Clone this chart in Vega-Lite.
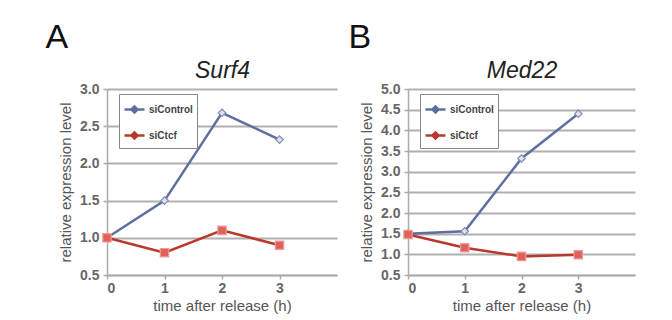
{
  "$schema": "https://vega.github.io/schema/vega-lite/v6.json",
  "background": "white",
  "padding": {"left": 45, "top": 21, "right": 10, "bottom": 2},
  "spacing": 11,
  "resolve": {"scale": {"color": "independent"}, "legend": {"color": "independent"}},
  "datasets": {
    "surf4": [
      {"time": 0, "series": "siControl", "value": 1.0},
      {"time": 1, "series": "siControl", "value": 1.5},
      {"time": 2, "series": "siControl", "value": 2.68},
      {"time": 3, "series": "siControl", "value": 2.32},
      {"time": 0, "series": "siCtcf", "value": 1.0},
      {"time": 1, "series": "siCtcf", "value": 0.8},
      {"time": 2, "series": "siCtcf", "value": 1.1},
      {"time": 3, "series": "siCtcf", "value": 0.9}
    ],
    "med22": [
      {"time": 0, "series": "siControl", "value": 1.5},
      {"time": 1, "series": "siControl", "value": 1.56},
      {"time": 2, "series": "siControl", "value": 3.32},
      {"time": 3, "series": "siControl", "value": 4.4},
      {"time": 0, "series": "siCtcf", "value": 1.48},
      {"time": 1, "series": "siCtcf", "value": 1.16},
      {"time": 2, "series": "siCtcf", "value": 0.95},
      {"time": 3, "series": "siCtcf", "value": 0.99}
    ]
  },
  "config": {
    "font": "Liberation Sans",
    "view": {"stroke": null},
    "axis": {
      "labelFont": "Liberation Sans",
      "labelFontWeight": "bold",
      "labelFontSize": 14,
      "labelColor": "#666666",
      "labelOverlap": false,
      "titleFont": "Liberation Sans",
      "titleFontWeight": "normal",
      "titleFontSize": 15,
      "titleColor": "#555555",
      "domainColor": "#aaaaaa",
      "domainWidth": 1.5,
      "tickColor": "#aaaaaa",
      "tickWidth": 1.5,
      "tickSize": 4,
      "gridColor": "#b0b0b0",
      "gridWidth": 2
    },
    "title": {"font": "Liberation Sans", "fontSize": 34, "fontWeight": "normal", "color": "#111111", "anchor": "start", "frame": "bounds"},
    "legend": {
      "orient": "none",
      "legendX": 12,
      "legendY": 5,
      "strokeColor": "#888888",
      "fillColor": "white",
      "padding": 4,
      "symbolSize": 400,
      "symbolStrokeWidth": 2.5,
      "rowPadding": 6,
      "labelFont": "Liberation Sans",
      "labelFontSize": 10,
      "labelFontWeight": "bold",
      "labelColor": "#444444",
      "labelOffset": 3,
      "title": null
    }
  },
  "hconcat": [
    {
      "data": {"name": "surf4"},
      "width": 230,
      "height": 186,
      "title": {"text": "A", "dx": -13},
      "resolve": {"axis": {"x": "independent"}},
      "encoding": {
        "y": {"field": "value", "type": "quantitative", "scale": {"domain": [0.5, 3.0]},
              "axis": {"values": [0.5, 1.0, 1.5, 2.0, 2.5, 3.0], "tickCount": 20, "format": ".1f", "title": "relative expression level", "labelPadding": 4, "titlePadding": 6}}
      },
      "layer": [
        {
          "mark": {"type": "line", "strokeWidth": 2.5},
          "encoding": {
            "x": {"field": "time", "type": "quantitative", "scale": {"domain": [0, 4]},
                  "axis": {"values": [0, 1, 2, 3], "grid": false, "title": "time after release (h)", "labelPadding": 2, "titlePadding": 3}},
            "color": {"field": "series", "type": "nominal",
                      "scale": {"domain": ["siControl", "siCtcf"], "range": ["#5f6f9f", "#b8382c"]},
                      "legend": {"symbolType": "M-1,0H1M-0.3,0L0,-0.3L0.3,0L0,0.3Z", "symbolStrokeWidth": 2.5, "symbolSize": 400}}
          }
        },
        {
          "transform": [{"filter": "datum.series === 'siControl'"}],
          "mark": {"type": "point", "shape": "diamond", "filled": true, "size": 55, "fill": "#dfe2ee", "stroke": "#7d8bb5", "strokeWidth": 1.2, "opacity": 1},
          "encoding": {
            "x": {"field": "time", "type": "quantitative",
                  "axis": {"orient": "top", "title": "Surf4", "labels": false, "ticks": false, "domain": false, "grid": false,
                           "titleFontStyle": "italic", "titleFontSize": 23, "titleColor": "#222222", "titlePadding": 7}}
          }
        },
        {
          "transform": [{"filter": "datum.series === 'siCtcf'"}],
          "mark": {"type": "point", "shape": "square", "filled": true, "size": 70, "fill": "#e2605a", "stroke": "#eb9c98", "strokeWidth": 1.2, "opacity": 1},
          "encoding": {
            "x": {"field": "time", "type": "quantitative", "axis": null}
          }
        }
      ]
    },
    {
      "data": {"name": "med22"},
      "width": 227,
      "height": 186,
      "title": {"text": "B", "dx": -11},
      "resolve": {"axis": {"x": "independent"}},
      "encoding": {
        "y": {"field": "value", "type": "quantitative", "scale": {"domain": [0.5, 5.0]},
              "axis": {"values": [0.5, 1.0, 1.5, 2.0, 2.5, 3.0, 3.5, 4.0, 4.5, 5.0], "tickCount": 20, "format": ".1f", "title": "relative expression level", "labelPadding": 4, "titlePadding": 6}}
      },
      "layer": [
        {
          "mark": {"type": "line", "strokeWidth": 2.5},
          "encoding": {
            "x": {"field": "time", "type": "quantitative", "scale": {"domain": [0, 4]},
                  "axis": {"values": [0, 1, 2, 3], "grid": false, "title": "time after release (h)", "labelPadding": 2, "titlePadding": 3}},
            "color": {"field": "series", "type": "nominal",
                      "scale": {"domain": ["siControl", "siCtcf"], "range": ["#5f6f9f", "#b8382c"]},
                      "legend": {"symbolType": "M-1,0H1M-0.3,0L0,-0.3L0.3,0L0,0.3Z", "symbolStrokeWidth": 2.5, "symbolSize": 400}}
          }
        },
        {
          "transform": [{"filter": "datum.series === 'siControl'"}],
          "mark": {"type": "point", "shape": "diamond", "filled": true, "size": 55, "fill": "#dfe2ee", "stroke": "#7d8bb5", "strokeWidth": 1.2, "opacity": 1},
          "encoding": {
            "x": {"field": "time", "type": "quantitative",
                  "axis": {"orient": "top", "title": "Med22", "labels": false, "ticks": false, "domain": false, "grid": false,
                           "titleFontStyle": "italic", "titleFontSize": 23, "titleColor": "#222222", "titlePadding": 7}}
          }
        },
        {
          "transform": [{"filter": "datum.series === 'siCtcf'"}],
          "mark": {"type": "point", "shape": "square", "filled": true, "size": 70, "fill": "#e2605a", "stroke": "#eb9c98", "strokeWidth": 1.2, "opacity": 1},
          "encoding": {
            "x": {"field": "time", "type": "quantitative", "axis": null}
          }
        }
      ]
    }
  ]
}
